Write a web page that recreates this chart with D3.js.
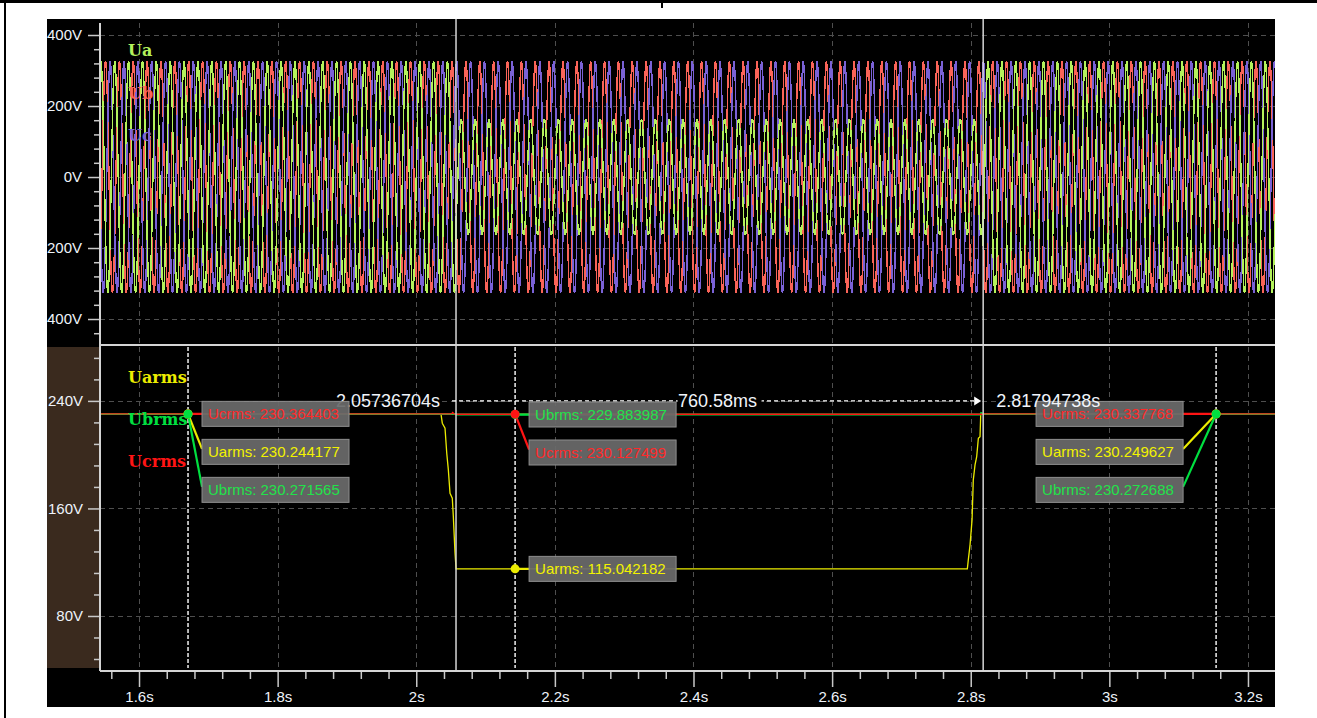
<!DOCTYPE html>
<html>
<head>
<meta charset="utf-8">
<script src="https://cdn.jsdelivr.net/npm/d3@7"></script>
<style>
  body { margin: 0; background: #ffffff; }
  svg { display: block; }
</style>
</head>
<body>
<svg id="chart" width="1317" height="718"></svg>
<script>
// ---- time axis ----
const timeDomain = [1.5437, 3.2390];
const timeTicks = [1.6, 1.8, 2.0, 2.2, 2.4, 2.6, 2.8, 3.0, 3.2];
const timeTickLabels = ["1.6s", "1.8s", "2s", "2.2s", "2.4s", "2.6s", "2.8s", "3s", "3.2s"];
const timeMinorStep = 0.04;

// ---- instantaneous voltage panel ----
const phaseNames = ["Ua", "Ub", "Uc"];
const phaseColors = ["#b4f25c", "#fa6458", "#7a62d6"];
const phaseShiftDeg = [0, -120, 120];
const lineFrequency = 50;
const sagStart = 2.05736704;
const sagEnd = 2.81794738;
const phaseRmsBefore = [230.244177, 230.271565, 230.364403];
const phaseRmsDuring = [115.042182, 229.883987, 230.127499];
const phaseRmsAfter = [230.249627, 230.272688, 230.337768];
const voltDomain = [-473.2, 445.1];
const voltTicks = [400, 200, 0, -200, -400];
const voltTickLabels = ["400V", "200V", "0V", "-200V", "-400V"];
const voltMinorStep = 40;

// ---- RMS panel ----
const rmsNames = ["Uarms", "Ubrms", "Ucrms"];
const rmsColors = ["#ecec00", "#00e040", "#ff1414"];
const rmsTextColors = ["#f2f200", "#22e24a", "#ff2a2a"];
const rmsDomain = [41.3, 280.1];
const rmsTicks = [240, 160, 80];
const rmsTickLabels = ["240V", "160V", "80V"];
const rmsMinorStep = 16;
const uarmsTrace = [
  [1.5437, 230.244], [2.0357, 230.10], [2.0376, 223.4], [2.0415, 219.7], [2.0440, 201.1],
  [2.0463, 188.7], [2.0487, 171.3], [2.0520, 167.6], [2.0535, 153.9], [2.0559, 127.1],
  [2.0574, 115.042], [2.7951, 115.042], [2.7965, 121.7], [2.7990, 132.9], [2.8019, 151.5],
  [2.8037, 181.2], [2.8062, 192.4], [2.8086, 198.6], [2.8110, 212.2], [2.8134, 213.4],
  [2.8144, 229.6], [2.8160, 230.250], [3.2390, 230.250]
];
const ubrmsTrace = [
  [1.5437, 230.272], [2.0560, 230.272], [2.0574, 229.884], [2.8140, 229.884],
  [2.8150, 231.0], [2.8180, 230.273], [3.2390, 230.273]
];
const ucrmsTrace = [
  [1.5437, 230.364], [2.0510, 230.364], [2.0525, 231.3], [2.0545, 230.364],
  [2.0574, 230.127], [2.8179, 230.127], [2.8190, 230.338], [3.2390, 230.338]
];

// ---- value markers ----
const markerTimes = [1.6707, 2.1426, 3.1540];
const markerSides = ["right", "right", "left"];
const markerNames = [["Ucrms", "Uarms", "Ubrms"], ["Ubrms", "Ucrms", "Uarms"], ["Ucrms", "Uarms", "Ubrms"]];
const markerValues = [
  [230.364403, 230.244177, 230.271565],
  [229.883987, 230.127499, 115.042182],
  [230.337768, 230.249627, 230.272688]
];

// ---- layout ----
const frame = { left: 47, top: 19, right: 1275, bottom: 707 };
const plotLeft = 100, plotRight = 1275;
const wavePanel = { top: 19, bottom: 345 };
const rmsPanel = { top: 347, bottom: 668 };
const xAxisY = 671;
const tickFont = "Liberation Sans, Arial, sans-serif";
const tickColor = "#eef3fa";
const gridColor = "#4e4e4e";

const svg = d3.select("#chart");

// frame decorations around the scope window
svg.append("rect").attr("x", 0).attr("y", 0).attr("width", 1317).attr("height", 3).attr("fill", "#000");
svg.append("rect").attr("x", 4).attr("y", 0).attr("width", 2).attr("height", 718).attr("fill", "#000");
svg.append("rect").attr("x", 661).attr("y", 0).attr("width", 2).attr("height", 8).attr("fill", "#000");

svg.append("rect")
  .attr("x", frame.left).attr("y", frame.top)
  .attr("width", frame.right - frame.left).attr("height", frame.bottom - frame.top)
  .attr("fill", "#000");
svg.append("rect")
  .attr("x", frame.left).attr("y", rmsPanel.top)
  .attr("width", plotLeft - frame.left).attr("height", rmsPanel.bottom - rmsPanel.top)
  .attr("fill", "#3a2a1e");

const defs = svg.append("defs");
defs.append("clipPath").attr("id", "clipWave").append("rect")
  .attr("x", plotLeft).attr("y", wavePanel.top)
  .attr("width", plotRight - plotLeft).attr("height", wavePanel.bottom - wavePanel.top);
defs.append("clipPath").attr("id", "clipRms").append("rect")
  .attr("x", plotLeft).attr("y", rmsPanel.top)
  .attr("width", plotRight - plotLeft).attr("height", rmsPanel.bottom - rmsPanel.top);
defs.append("clipPath").attr("id", "clipLabels").append("rect")
  .attr("x", frame.left).attr("y", frame.top)
  .attr("width", frame.right - frame.left).attr("height", frame.bottom - frame.top);

// ---- scales ----
const x = d3.scaleLinear().domain(timeDomain).range([plotLeft, plotRight]);
const yV = d3.scaleLinear().domain(voltDomain).range([wavePanel.bottom, wavePanel.top]);
const yR = d3.scaleLinear().domain(rmsDomain).range([rmsPanel.bottom, rmsPanel.top]);

function stepsWithin(lo, hi, step) {
  const out = [];
  const start = Math.ceil(lo / step - 1e-9);
  const end = Math.floor(hi / step + 1e-9);
  for (let i = start; i <= end; i++) out.push(+(i * step).toFixed(6));
  return out;
}

// ---- grid ----
const grid = svg.append("g").attr("stroke", gridColor).attr("stroke-width", 1)
  .attr("stroke-dasharray", "5,4").attr("shape-rendering", "crispEdges");
timeTicks.forEach(t => {
  grid.append("line").attr("x1", Math.round(x(t)) + 0.5).attr("x2", Math.round(x(t)) + 0.5)
    .attr("y1", wavePanel.top + 4).attr("y2", wavePanel.bottom);
  grid.append("line").attr("x1", Math.round(x(t)) + 0.5).attr("x2", Math.round(x(t)) + 0.5)
    .attr("y1", rmsPanel.top).attr("y2", rmsPanel.bottom);
});
voltTicks.forEach(v => {
  grid.append("line").attr("x1", plotLeft).attr("x2", plotRight)
    .attr("y1", Math.round(yV(v)) + 0.5).attr("y2", Math.round(yV(v)) + 0.5);
});
rmsTicks.forEach(v => {
  grid.append("line").attr("x1", plotLeft).attr("x2", plotRight)
    .attr("y1", Math.round(yR(v)) + 0.5).attr("y2", Math.round(yR(v)) + 0.5);
});

// ---- waveforms ----
function phaseRmsAt(p, t) {
  if (t < sagStart) return phaseRmsBefore[p];
  if (t < sagEnd) return phaseRmsDuring[p];
  return phaseRmsAfter[p];
}
const sampleRate = 20000;
const waveT = d3.range(timeDomain[0], timeDomain[1], 1 / sampleRate);
const waveLine = d3.line().x(d => x(d[0])).y(d => yV(d[1]));
const waveGroup = svg.append("g").attr("clip-path", "url(#clipWave)");
[1, 2, 0].forEach(p => {
  const w = 2 * Math.PI * lineFrequency;
  const ph = phaseShiftDeg[p] * Math.PI / 180;
  const pts = waveT.map(t => [t, Math.SQRT2 * phaseRmsAt(p, t) * Math.sin(w * t + ph)]);
  waveGroup.append("path")
    .attr("d", waveLine(pts))
    .attr("fill", "none")
    .attr("stroke", phaseColors[p])
    .attr("stroke-width", 1.45)
    .attr("shape-rendering", "crispEdges");
});

// phase legend
const legendFont = "DejaVu Serif, Liberation Serif, serif";
phaseNames.forEach((n, i) => {
  svg.append("text").attr("x", 128).attr("y", [56, 99, 141][i])
    .attr("font-family", legendFont).attr("font-weight", "bold").attr("font-size", 16)
    .attr("fill", phaseColors[i]).text(n);
});

// ---- RMS traces ----
const rmsLine = d3.line().x(d => x(d[0])).y(d => yR(d[1]));
const rmsGroup = svg.append("g").attr("clip-path", "url(#clipRms)");
[[uarmsTrace, 0, 1.3], [ubrmsTrace, 1, 2.0], [ucrmsTrace, 2, 1.4]].forEach(([tr, i, sw]) => {
  rmsGroup.append("path").attr("d", rmsLine(tr)).attr("fill", "none")
    .attr("stroke", rmsColors[i]).attr("stroke-width", sw);
});

rmsNames.forEach((n, i) => {
  svg.append("text").attr("x", 128).attr("y", [383, 425, 467][i])
    .attr("font-family", legendFont).attr("font-weight", "bold").attr("font-size", 16)
    .attr("fill", rmsColors[i]).text(n);
});

// ---- axes ----
const labelsLayer = svg.append("g").attr("clip-path", "url(#clipLabels)");

function styleAxis(g) {
  g.select(".domain").remove();
  g.selectAll(".tick line").attr("stroke", "#c8c8c8").attr("stroke-width", 1.5);
  g.selectAll(".tick text").attr("fill", tickColor).attr("font-family", tickFont).attr("font-size", 15);
}

// voltage axis
labelsLayer.append("g").attr("transform", `translate(${plotLeft},0)`)
  .call(d3.axisLeft(yV).tickValues(stepsWithin(voltDomain[0], voltDomain[1], voltMinorStep)
      .filter(v => yV(v) > wavePanel.top + 6 && !voltTicks.includes(v))).tickSize(6).tickFormat(""))
  .call(styleAxis);
labelsLayer.append("g").attr("transform", `translate(${plotLeft},0)`)
  .call(d3.axisLeft(yV).tickValues(voltTicks).tickSize(12).tickPadding(6)
      .tickFormat((d, i) => voltTickLabels[i]))
  .call(styleAxis);

// RMS axis
labelsLayer.append("g").attr("transform", `translate(${plotLeft},0)`)
  .call(d3.axisLeft(yR).tickValues(stepsWithin(rmsDomain[0], rmsDomain[1], rmsMinorStep)
      .filter(v => yR(v) > rmsPanel.top + 6 && !rmsTicks.includes(v))).tickSize(6).tickFormat(""))
  .call(styleAxis);
labelsLayer.append("g").attr("transform", `translate(${plotLeft},0)`)
  .call(d3.axisLeft(yR).tickValues(rmsTicks).tickSize(12).tickPadding(5)
      .tickFormat((d, i) => rmsTickLabels[i]))
  .call(styleAxis);

// time axis
labelsLayer.append("g").attr("transform", `translate(0,${xAxisY})`)
  .call(d3.axisBottom(x).tickValues(stepsWithin(timeDomain[0], timeDomain[1], timeMinorStep)
      .filter(t => !timeTicks.some(m => Math.abs(m - t) < 1e-6))).tickSize(8).tickFormat(""))
  .call(styleAxis);
labelsLayer.append("g").attr("transform", `translate(0,${xAxisY})`)
  .call(d3.axisBottom(x).tickValues(timeTicks).tickSize(16).tickPadding(4)
      .tickFormat((d, i) => timeTickLabels[i]))
  .call(styleAxis);

// axis lines and panel separator
const axisLines = svg.append("g").attr("stroke", "#d4d4d4").attr("stroke-width", 2);
axisLines.append("line").attr("x1", plotLeft).attr("x2", plotLeft).attr("y1", 23).attr("y2", xAxisY);
axisLines.append("line").attr("x1", plotLeft).attr("x2", plotRight).attr("y1", wavePanel.bottom).attr("y2", wavePanel.bottom);
axisLines.append("line").attr("x1", plotLeft).attr("x2", plotRight).attr("y1", xAxisY).attr("y2", xAxisY);

// ---- time cursors and interval measurement ----
[sagStart, sagEnd].forEach(t => {
  svg.append("line").attr("x1", x(t)).attr("x2", x(t))
    .attr("y1", frame.top).attr("y2", xAxisY)
    .attr("stroke", "#d6d6d6").attr("stroke-width", 1.5);
});

const measureY = yR(240);
svg.append("line").attr("x1", x(sagStart) - 4).attr("x2", x(sagEnd) - 8)
  .attr("y1", measureY).attr("y2", measureY)
  .attr("stroke", "#ffffff").attr("stroke-width", 1.3).attr("stroke-dasharray", "4,3");
svg.append("path")
  .attr("d", `M${x(sagEnd) - 9},${measureY - 4.5} L${x(sagEnd) - 2},${measureY} L${x(sagEnd) - 9},${measureY + 4.5} Z`)
  .attr("fill", "#ffffff");

const intervalText = ((sagEnd - sagStart) * 1000).toFixed(2) + "ms";
const midX = (x(sagStart) + x(sagEnd)) / 2;
svg.append("rect").attr("x", midX - 42).attr("y", measureY - 10).attr("width", 84).attr("height", 20).attr("fill", "#000");
svg.append("text").attr("x", midX - 2).attr("y", measureY + 6.5).attr("text-anchor", "middle")
  .attr("font-family", tickFont).attr("font-size", 18).attr("fill", "#f0f4fa").text(intervalText);
svg.append("text").attr("x", x(sagStart) - 16).attr("y", measureY + 6.5).attr("text-anchor", "end")
  .attr("font-family", tickFont).attr("font-size", 18).attr("fill", "#f0f4fa").text(sagStart.toFixed(8) + "s");

// ---- value markers with readout boxes ----
const boxW = 147, boxH = 25, boxStep = 38;
const markersLayer = svg.append("g");
const markerLines = markersLayer.append("g");
const markerBoxes = markersLayer.append("g");
const markerDots = markersLayer.append("g");

markerTimes.forEach((t, m) => {
  const mx = x(t);
  markerLines.append("line").attr("x1", mx).attr("x2", mx)
    .attr("y1", rmsPanel.top).attr("y2", rmsPanel.bottom)
    .attr("stroke", "#ffffff").attr("stroke-width", 1.4).attr("stroke-dasharray", "4,2");

  let prevCenter = -Infinity;
  markerNames[m].forEach((name, k) => {
    const v = markerValues[m][k];
    const ci = rmsNames.indexOf(name);
    const dy = yR(v);
    const center = Math.max(dy, prevCenter + boxStep);
    prevCenter = center;
    const bx = markerSides[m] === "right" ? mx + 14 : mx - 33 - boxW;
    const edgeX = markerSides[m] === "right" ? bx : bx + boxW;
    const endY = center > dy + 1 ? center - 3 : center;

    markerLines.append("line").attr("x1", mx).attr("y1", dy).attr("x2", edgeX).attr("y2", endY)
      .attr("stroke", rmsColors[ci]).attr("stroke-width", 2.2);
    markerBoxes.append("rect").attr("x", bx).attr("y", center - boxH / 2)
      .attr("width", boxW).attr("height", boxH)
      .attr("fill", "#6a6a6a").attr("fill-opacity", 0.93)
      .attr("stroke", "#8e8e8e").attr("stroke-width", 1);
    markerBoxes.append("text").attr("x", bx + 6).attr("y", center + 5.5)
      .attr("font-family", tickFont).attr("font-size", 15).attr("fill", rmsTextColors[ci])
      .text(`${name}: ${v.toFixed(6)}`);
    markerDots.append("circle").attr("cx", mx).attr("cy", dy).attr("r", 4.5)
      .attr("fill", rmsColors[ci]);
  });
});

// end cursor time stamp sits above the readout boxes
svg.append("text").attr("x", x(sagEnd) + 13).attr("y", measureY + 6.5)
  .attr("font-family", tickFont).attr("font-size", 18).attr("fill", "#f0f4fa").text(sagEnd.toFixed(8) + "s");
</script>
</body>
</html>
